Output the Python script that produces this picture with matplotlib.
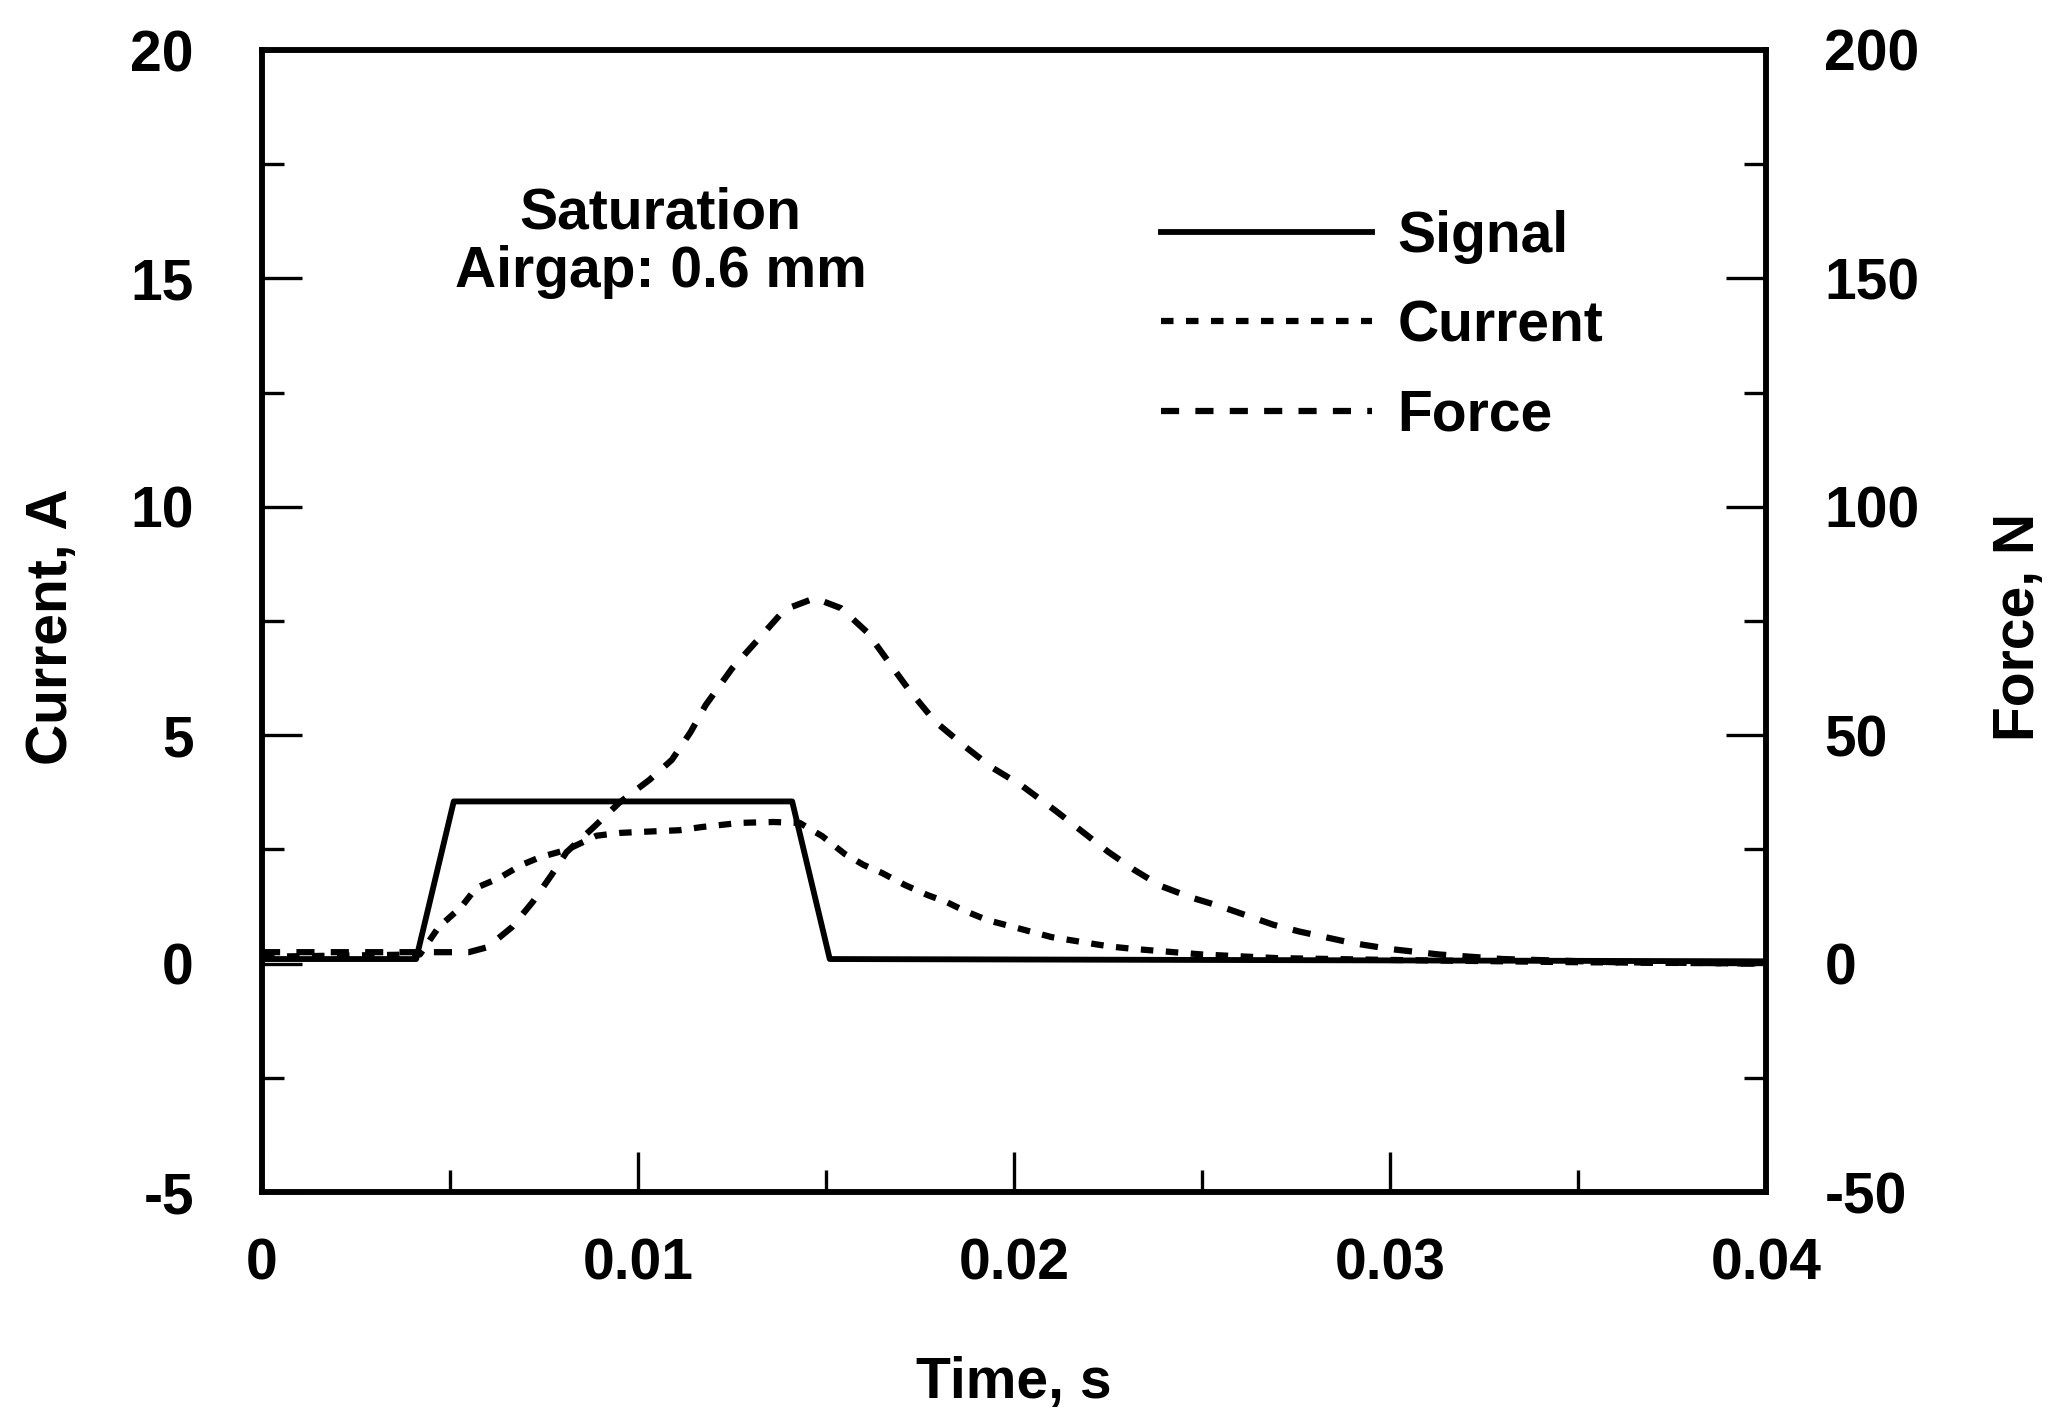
import matplotlib
matplotlib.use("Agg")
import matplotlib.pyplot as plt
from matplotlib.ticker import AutoMinorLocator

plt.rcParams['font.family'] = ['Liberation Sans', 'DejaVu Sans']
plt.rcParams['font.weight'] = 'bold'
plt.rcParams['axes.labelweight'] = 'bold'
plt.rcParams['axes.unicode_minus'] = False

# drive signal (A)
signal_t = [0, 0.0041, 0.0051, 0.0141, 0.0151, 0.04]
signal_a = [0.1, 0.1, 3.55, 3.55, 0.1, 0.05]

# coil current (A)
current_t = [0, 0.0042, 0.0047, 0.0053, 0.0057, 0.0063, 0.0069, 0.0074, 0.0081,
             0.0089, 0.0095, 0.0100, 0.0111, 0.0117, 0.0127, 0.0136, 0.0143,
             0.0149, 0.0155, 0.0160, 0.0165, 0.0171, 0.0177, 0.0182, 0.0187,
             0.0193, 0.0199, 0.0204, 0.0210, 0.0216, 0.0222, 0.0226, 0.0232,
             0.0238, 0.0250, 0.0270, 0.0300, 0.0350, 0.0400]
current_a = [0.15, 0.2, 0.8, 1.24, 1.66, 1.87, 2.16, 2.33, 2.49,
             2.8, 2.86, 2.88, 2.92, 2.99, 3.08, 3.1, 3.08,
             2.79, 2.4, 2.16, 1.98, 1.72, 1.5, 1.35, 1.15,
             0.95, 0.82, 0.71, 0.58, 0.5, 0.42, 0.37, 0.32,
             0.28, 0.2, 0.12, 0.08, 0.03, 0.0]

# actuator force (N)
force_t = [0, 0.0055, 0.0060, 0.00665, 0.0072, 0.0077, 0.0081, 0.0088, 0.0095,
           0.0103, 0.0109, 0.0114, 0.0118, 0.0125, 0.0132, 0.0139, 0.0147,
           0.0154, 0.0161, 0.0168, 0.0172, 0.0179, 0.0187, 0.0194, 0.0202,
           0.0211, 0.0218, 0.0225, 0.0232, 0.0239, 0.0247, 0.0255, 0.0262,
           0.0269, 0.0276, 0.0290, 0.0300, 0.0313, 0.0330, 0.0360, 0.0400]
force_n = [2.5, 2.5, 3.6, 8.0, 13.5, 19.4, 24.4, 29.7, 35.2,
           40.2, 44.6, 50.7, 56.6, 64.6, 71.0, 77.5, 80.0,
           77.8, 72.5, 64.5, 60.0, 53.0, 47.5, 43.0, 39.0,
           33.5, 29.0, 24.5, 20.5, 17.0, 14.5, 12.5, 10.5,
           8.5, 7.0, 4.5, 3.2, 2.0, 1.0, 0.3, 0.0]

time_ticks = [0, 0.01, 0.02, 0.03, 0.04]
time_labels = ["0", "0.01", "0.02", "0.03", "0.04"]
current_ticks = [-5, 0, 5, 10, 15, 20]
force_ticks = [-50, 0, 50, 100, 150, 200]

fs = 41

fig = plt.figure(figsize=(20.51, 14.11), dpi=100)
ax = fig.add_axes([262 / 2051, 1 - 1192 / 1411, 1504 / 2051, 1142 / 1411])
ax2 = ax.twinx()

l_sig, = ax.plot(signal_t, signal_a, color="black", lw=4.2, label="Signal")
l_cur, = ax.plot(current_t, current_a, color="black", lw=4.5,
                 dashes=(2.0, 2.0), label="Current")
l_frc, = ax2.plot(force_t, force_n, color="black", lw=4.5,
                  dashes=(2.9, 2.6), label="Force")

ax.set_xlim(0, 0.04)
ax.set_ylim(-5, 20)
ax2.set_ylim(-50, 200)

ax.set_xticks(time_ticks)
ax.set_xticklabels(time_labels)
ax.set_yticks(current_ticks)
ax2.set_yticks(force_ticks)
for a in (ax, ax2):
    a.xaxis.set_minor_locator(AutoMinorLocator(2))
    a.yaxis.set_minor_locator(AutoMinorLocator(2))
    for s in a.spines.values():
        s.set_linewidth(4)

ax.tick_params(which="both", direction="in", top=False, right=False,
               width=2.4, labelsize=fs)
ax.tick_params(which="major", length=29)
ax.tick_params(which="minor", length=16)
ax.tick_params(axis="y", pad=49)
ax.tick_params(axis="x", pad=33)
ax2.tick_params(which="both", direction="in", width=2.4, labelsize=fs, pad=42)
ax2.tick_params(which="major", length=29)
ax2.tick_params(which="minor", length=16)

ax.set_xlabel("Time, s", fontsize=fs)
ax.set_ylabel("Current, A", fontsize=fs)
ax2.set_ylabel("Force, N", fontsize=fs)
for lab in (ax.xaxis.label, ax.yaxis.label, ax2.yaxis.label):
    lab.set_verticalalignment("center")
ax.xaxis.set_label_coords(0.5, -0.1670)
ax.yaxis.set_label_coords(-0.1396, 0.4947)
ax2.yaxis.set_label_coords(1.1680, 0.4947)

ax.text(0.265, 0.831, "Saturation\nAirgap: 0.6 mm", transform=ax.transAxes,
        ha="center", va="center", fontsize=fs, linespacing=1.1)

ax2.legend(handles=[l_sig, l_cur, l_frc], loc="upper left",
           bbox_to_anchor=(1161 / 2051, 1 - 210 / 1411),
           bbox_transform=fig.transFigure, frameon=False, fontsize=fs,
           handlelength=3.7, handletextpad=0.45, labelspacing=0.62,
           borderpad=0, borderaxespad=0)

fig.savefig("out.png", dpi=100)
